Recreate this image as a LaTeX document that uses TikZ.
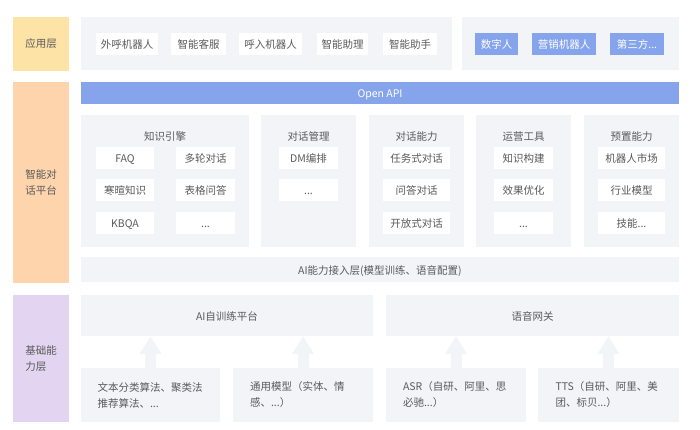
\documentclass[tikz,border=0pt]{standalone}
\usepackage{fontspec}
\setmainfont{Noto Sans CJK SC}
\usepackage{tikz}
\usetikzlibrary{
    arrows.meta, positioning, calc
}
\definecolor{layerYellow}{HTML}{FEE3A6}
\definecolor{layerPeach}{HTML}{FDD4AC}
\definecolor{layerPurple}{HTML}{E3D4F1}
\definecolor{panelGray}{HTML}{F3F4F8}
\definecolor{apiBlue}{HTML}{86A4EB}
\definecolor{textGray}{HTML}{5A5A5A}
% box from its two corners: style, name, x1, y1, x2, y2, text
\newcommand{\PlaceBox}[7]{
    \node[#1, minimum width=#5-#3, minimum height=#6-#4] (#2) at ({(#3+#5)/2}, {(#4+#6)/2}) {#7};
}

\begin{document}
\begin{tikzpicture}[x=1pt, y=-1pt,
    font=\fontsize{10.5}{16}\selectfont,
    oneline/.style={text height=9.5pt, text depth=0.5pt},
    layer/.style={fill=#1, text=textGray, align=left, inner sep=0pt},
    panel/.style={fill=panelGray, text=textGray, inner sep=0pt, oneline},
    paneltitle/.style={text=textGray, inner sep=0pt, oneline},
    item/.style={fill=white, text=textGray, minimum height=22pt, inner sep=0pt, oneline},
    blueitem/.style={fill=apiBlue, text=white, minimum height=22pt, inner sep=0pt, oneline},
    note/.style={fill=panelGray, text=textGray, align=left, text width=106pt, inner xsep=16pt},
    upArrow/.style={draw=panelGray, line width=11pt, -{Triangle[length=18pt, width=21pt]}}
]
    \useasboundingbox (0,0) rectangle (700,430);

    % Layer labels
    \PlaceBox{layer=layerYellow}{appLayer}{13}{17}{69}{71}{应用层}
    \PlaceBox{layer=layerPeach}{dlgLayer}{13}{82}{69}{283}{智能对\\话平台}
    \PlaceBox{layer=layerPurple}{baseLayer}{13}{295}{69}{422}{基础能\\力层}

    % Application layer
    \PlaceBox{panel}{appLeft}{81}{17}{452}{70}{}
    \PlaceBox{panel}{appRight}{462}{17}{679}{70}{}
    \foreach \name/\x/\w/\txt in {app1/127/62/外呼机器人, app2/198.5/55/智能客服,
        app3/270.5/63/呼入机器人, app4/342.5/51/智能助理, app5/410/54/智能助手} {
        \node[item, minimum width=\w pt] (\name) at (\x, 44) {\txt};
    }
    \foreach \name/\x/\w/\txt in {app6/496.5/43/数字人, app7/564/64/营销机器人,
        app8/637/54/{第三方...}} {
        \node[blueitem, minimum width=\w pt] (\name) at (\x, 44) {\txt};
    }

    % Open API
    \PlaceBox{fill=apiBlue, text=white, inner sep=0pt, oneline}{openApi}{81}{82}{679}{104}{Open API}

    % Dialogue platform panels
    \PlaceBox{panel}{ke}{81}{115}{249}{247}{}
    \PlaceBox{panel}{dm}{261}{115}{356}{247}{}
    \PlaceBox{panel}{dc}{369}{115}{464}{247}{}
    \PlaceBox{panel}{ops}{476}{115}{571}{247}{}
    \PlaceBox{panel}{pre}{584}{115}{679}{247}{}
    \foreach \p/\txt in {ke/知识引擎, dm/对话管理, dc/对话能力, ops/运营工具, pre/预置能力} {
        \node[paneltitle, below=16pt of \p.north] (\p-title) {\txt};
    }

    % Items inside the panels
    \foreach \name/\x/\y/\w/\txt in {
        ke1/125/158/58/FAQ, ke2/205.5/158/59/多轮对话,
        ke3/125/190/58/寒暄知识, ke4/205.5/190/59/表格问答,
        ke5/125/222.5/58/KBQA, ke6/205.5/222.5/59/{...},
        dm1/308.5/158/59/DM编排, dm2/308.5/190/59/{...},
        dc1/416.5/158/67/任务式对话, dc2/416.5/190/67/问答对话, dc3/416.5/222.5/67/开放式对话,
        ops1/523.5/158/59/知识构建, ops2/523.5/190/59/效果优化, ops3/523.5/222.5/59/{...},
        pre1/631.5/158/67/机器人市场, pre2/631.5/190/67/行业模型, pre3/631.5/222.5/67/{技能...}} {
        \node[item, minimum width=\w pt] (\name) at (\x, \y) {\txt};
    }

    % AI access layer
    \PlaceBox{panel}{aiAccess}{81}{257}{679}{282}{AI能力接入层(模型训练、语音配置)}

    % Base layer
    \PlaceBox{panel}{train}{81}{295}{373}{336}{AI自训练平台}
    \PlaceBox{panel}{voice}{386}{295}{679}{336}{语音网关}
    \PlaceBox{note}{b1}{81}{368}{220}{422}{文本分类算法、聚类法\\推荐算法、...}
    \PlaceBox{note}{b2}{233}{368}{373}{422}{通用模型（实体、情\\感、...）}
    \PlaceBox{note}{b3}{386}{368}{526}{422}{ASR（自研、阿里、思\\必驰...）}
    \PlaceBox{note}{b4}{538}{368}{679}{422}{TTS（自研、阿里、美\\团、标贝...）}

    % Arrows up
    \draw[upArrow] (b1.north) -- (b1.north |- train.south);
    \draw[upArrow] (b2.north) -- (b2.north |- train.south);
    \draw[upArrow] (b3.north) -- (b3.north |- voice.south);
    \draw[upArrow] (b4.north) -- (b4.north |- voice.south);

\end{tikzpicture}
\end{document}
